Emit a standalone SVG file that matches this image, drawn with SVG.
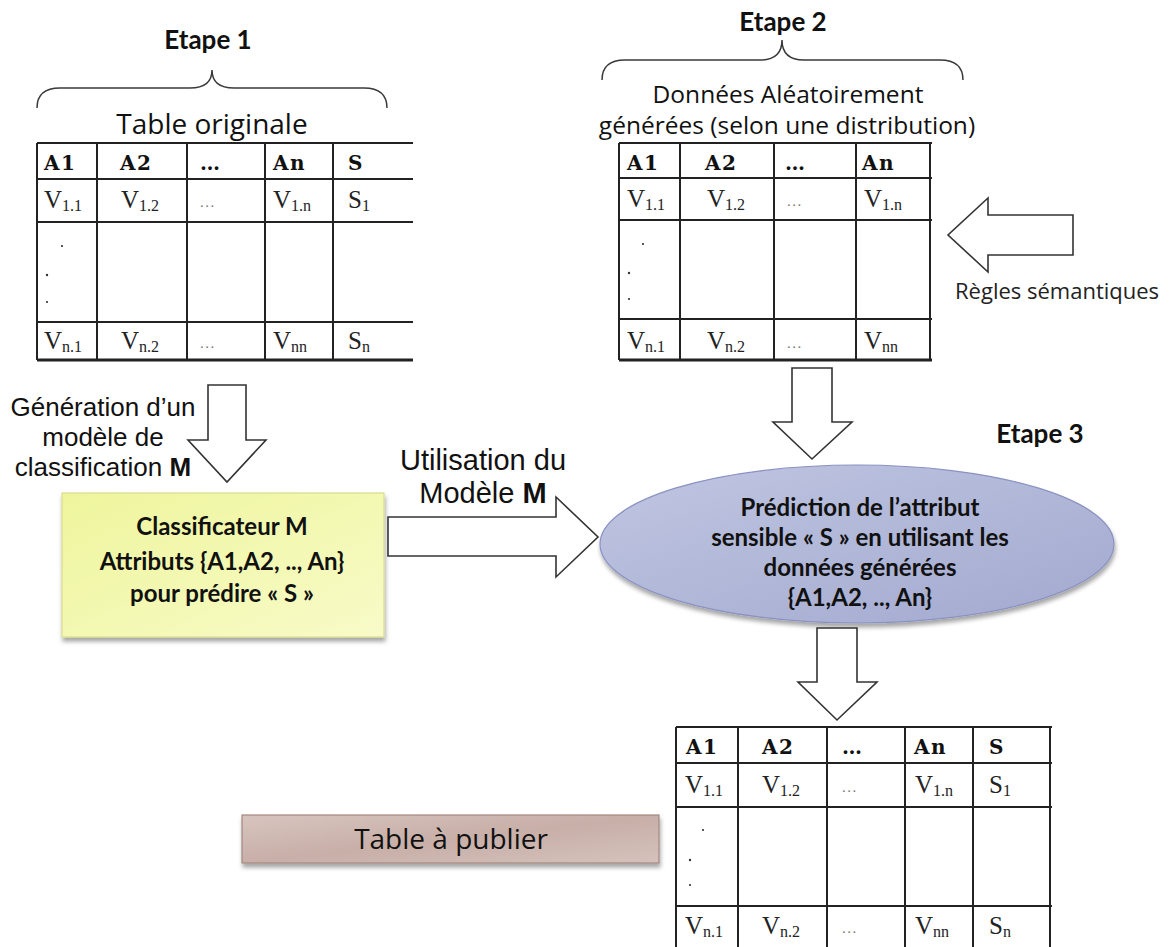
<svg xmlns="http://www.w3.org/2000/svg" width="1172" height="947" viewBox="0 0 1172 947">
  <style>
    .bg { fill: #ffffff; }
    .grid { stroke: #222; stroke-width: 2; fill: none; }
    .gridb { stroke: #222; stroke-width: 3.2; fill: none; }
    .hd { font-family: "DejaVu Serif", "Liberation Serif", serif; font-weight: bold; font-size: 20px; letter-spacing: 1.5px; fill: #111; }
    .cv { font-family: "Liberation Serif", serif; font-size: 25px; fill: #222; }
    .sub { font-size: 16px; }
    .ell { font-family: "Liberation Serif", serif; font-size: 15px; fill: #777; letter-spacing: 1.5px; }
    .dot { fill: #333; }
    .brace { stroke: #3a3a3a; stroke-width: 1.5; fill: none; }
    .step { font-family: "Lato", "Open Sans", sans-serif; font-weight: bold; font-size: 26px; fill: #111; text-anchor: middle; }
    .cap { font-family: "Open Sans", "Noto Sans", sans-serif; font-size: 24.5px; fill: #111; text-anchor: middle; }
    .cap-lg { font-size: 28px; }
    .lbl { font-family: "Liberation Sans", Arial, sans-serif; font-size: 26px; fill: #111; text-anchor: middle; }
    .lbl-lg { font-size: 29px; }
    .note { font-family: "Open Sans", "Noto Sans", sans-serif; font-size: 22px; fill: #222; }
    .box { font-family: "Lato", "Open Sans", sans-serif; font-weight: bold; font-size: 24px; fill: #111; text-anchor: middle; }
    .arrow { fill: #ffffff; stroke: #333; stroke-width: 1.6; stroke-linejoin: miter; }
  </style>
  <defs>
    <linearGradient id="yel" x1="0" y1="0" x2="1" y2="1">
      <stop offset="0" stop-color="#eef59c"/>
      <stop offset="1" stop-color="#f8fbc8"/>
    </linearGradient>
    <linearGradient id="blu" x1="0" y1="0" x2="1" y2="1">
      <stop offset="0" stop-color="#c0c6e1"/>
      <stop offset="1" stop-color="#a2a9cf"/>
    </linearGradient>
    <linearGradient id="ros" x1="0" y1="0" x2="1" y2="1">
      <stop offset="0" stop-color="#d8c4bf"/>
      <stop offset="0.5" stop-color="#c8afa8"/>
      <stop offset="1" stop-color="#d5c1bc"/>
    </linearGradient>
    <filter id="shadow" x="-10%" y="-10%" width="125%" height="135%">
      <feDropShadow dx="1" dy="4" stdDeviation="2" flood-color="#000" flood-opacity="0.35"/>
    </filter>
  </defs>

  <rect class="bg" x="0" y="0" width="1172" height="947"/>

  <!-- Step 1: original table -->
  <g id="step1">
    <path class="brace" d="M37,108 Q37,88 60,88 L190,88 Q212,88 212,70 Q212,88 234,88 L364,88 Q387,88 387,108"/>
    <text class="step" x="208" y="49">Etape 1</text>
    <text class="cap cap-lg" x="212" y="134">Table originale</text>
  </g>

  <g id="table-original" transform="translate(37,143)">
    <path class="grid" d="M0,0 H376 M0,36 H376 M0,79 H376 M0,179 H376 M0,0 V217 M60,0 V217 M150,0 V217 M228,0 V217 M296,0 V217"/>
    <path class="gridb" d="M0,217 H376"/>
    <text class="hd" x="7" y="27">A1</text>
    <text class="hd" x="83" y="27">A2</text>
    <text class="hd" x="163" y="27">…</text>
    <text class="hd" x="236" y="27">An</text>
    <text class="hd" x="311" y="27">S</text>
    <text class="cv" x="7" y="65">V<tspan class="sub" dy="3">1.1</tspan></text>
    <text class="cv" x="84" y="65">V<tspan class="sub" dy="3">1.2</tspan></text>
    <text class="ell" x="163" y="64">...</text>
    <text class="cv" x="236" y="65">V<tspan class="sub" dy="3">1.n</tspan></text>
    <text class="cv" x="311" y="65">S<tspan class="sub" dy="3">1</tspan></text>
    <circle class="dot" cx="25" cy="103" r="1.1"/>
    <circle class="dot" cx="10" cy="132" r="1.2"/>
    <circle class="dot" cx="10" cy="159" r="1.1"/>
    <text class="cv" x="7" y="206">V<tspan class="sub" dy="3">n.1</tspan></text>
    <text class="cv" x="84" y="206">V<tspan class="sub" dy="3">n.2</tspan></text>
    <text class="ell" x="163" y="205">...</text>
    <text class="cv" x="236" y="206">V<tspan class="sub" dy="3">nn</tspan></text>
    <text class="cv" x="311" y="206">S<tspan class="sub" dy="3">n</tspan></text>
  </g>

  <!-- Step 2: randomly generated data -->
  <g id="step2">
    <path class="brace" d="M602,80 Q602,60 625,60 L760,60 Q782,60 782,40 Q782,60 804,60 L940,60 Q963,60 963,80"/>
    <text class="step" x="783" y="31">Etape 2</text>
    <text class="cap" x="788" y="103">Données Aléatoirement</text>
    <text class="cap" x="787" y="134">générées (selon une distribution)</text>
  </g>

  <g id="table-generated" transform="translate(619,143)">
    <path class="grid" d="M0,0 H313 M0,35 H313 M0,77 H313 M0,176 H313 M0,0 V217 M61,0 V217 M155,0 V217 M237,0 V217 M311,0 V217"/>
    <path class="gridb" d="M0,217 H313"/>
    <text class="hd" x="8" y="27">A1</text>
    <text class="hd" x="86" y="27">A2</text>
    <text class="hd" x="166" y="27">…</text>
    <text class="hd" x="243" y="27">An</text>
    <text class="cv" x="8" y="64">V<tspan class="sub" dy="3">1.1</tspan></text>
    <text class="cv" x="88" y="64">V<tspan class="sub" dy="3">1.2</tspan></text>
    <text class="ell" x="168" y="63">...</text>
    <text class="cv" x="245" y="64">V<tspan class="sub" dy="3">1.n</tspan></text>
    <circle class="dot" cx="24" cy="101" r="1.1"/>
    <circle class="dot" cx="10" cy="130" r="1.2"/>
    <circle class="dot" cx="10" cy="156" r="1.1"/>
    <text class="cv" x="8" y="206">V<tspan class="sub" dy="3">n.1</tspan></text>
    <text class="cv" x="88" y="206">V<tspan class="sub" dy="3">n.2</tspan></text>
    <text class="ell" x="168" y="205">...</text>
    <text class="cv" x="245" y="206">V<tspan class="sub" dy="3">nn</tspan></text>
  </g>

  <g id="semantic-rules">
    <text class="note" x="955" y="299">Règles sémantiques</text>
  </g>

  <g id="labels">
    <text class="lbl" x="103" y="416">Génération d’un</text>
    <text class="lbl" x="103" y="446">modèle de</text>
    <text class="lbl" x="103" y="476">classification <tspan font-weight="bold">M</tspan></text>
    <text class="lbl lbl-lg" x="483" y="470">Utilisation du</text>
    <text class="lbl lbl-lg" x="483" y="503">Modèle <tspan font-weight="bold">M</tspan></text>
    <text class="step" x="1040" y="443">Etape 3</text>
  </g>

  <!-- Classifier -->
  <g id="classifier">
    <rect x="62" y="493" width="322" height="144" fill="url(#yel)" stroke="#d9dd8e" stroke-width="1.2" filter="url(#shadow)"/>
    <text class="box" x="222" y="535">Classificateur M</text>
    <text class="box" x="222" y="570">Attributs {A1,A2, .., An}</text>
    <text class="box" x="222" y="602">pour prédire « S »</text>
  </g>

  <!-- Prediction -->
  <g id="prediction">
    <ellipse cx="857" cy="544" rx="257" ry="79" fill="url(#blu)" stroke="#8a92c2" stroke-width="1.2" filter="url(#shadow)"/>
    <text class="box" x="860" y="516">Prédiction de l’attribut</text>
    <text class="box" x="860" y="546">sensible « S » en utilisant les</text>
    <text class="box" x="860" y="576">données générées</text>
    <text class="box" x="860" y="606">{A1,A2, .., An}</text>
  </g>

  <!-- Output table -->
  <g id="publish">
    <rect x="242" y="815" width="417" height="48" fill="url(#ros)" stroke="#a3877f" stroke-width="1.2" filter="url(#shadow)"/>
    <text class="cap cap-lg" x="451" y="849">Table à publier</text>
  </g>

  <g id="table-published" transform="translate(676,727)">
    <path class="grid" d="M0,0 H376 M0,36 H376 M0,80 H376 M0,179 H376 M0,0 V222 M62,0 V222 M151,0 V222 M229,0 V222 M297,0 V222 M374,0 V222"/>
    <text class="hd" x="10" y="27">A1</text>
    <text class="hd" x="86" y="27">A2</text>
    <text class="hd" x="166" y="27">…</text>
    <text class="hd" x="238" y="27">An</text>
    <text class="hd" x="313" y="27">S</text>
    <text class="cv" x="9" y="66">V<tspan class="sub" dy="3">1.1</tspan></text>
    <text class="cv" x="86" y="66">V<tspan class="sub" dy="3">1.2</tspan></text>
    <text class="ell" x="166" y="65">...</text>
    <text class="cv" x="239" y="66">V<tspan class="sub" dy="3">1.n</tspan></text>
    <text class="cv" x="313" y="66">S<tspan class="sub" dy="3">1</tspan></text>
    <circle class="dot" cx="27" cy="103" r="1.1"/>
    <circle class="dot" cx="14" cy="133" r="1.2"/>
    <circle class="dot" cx="14" cy="158" r="1.1"/>
    <text class="cv" x="9" y="207">V<tspan class="sub" dy="3">n.1</tspan></text>
    <text class="cv" x="86" y="207">V<tspan class="sub" dy="3">n.2</tspan></text>
    <text class="ell" x="166" y="206">...</text>
    <text class="cv" x="239" y="207">V<tspan class="sub" dy="3">nn</tspan></text>
    <text class="cv" x="313" y="207">S<tspan class="sub" dy="3">n</tspan></text>
  </g>

  <!-- Block arrows -->
  <g id="connectors">
    <path class="arrow" d="M208,385 H246 V440 H266 L227,482 L188,440 H208 Z"/>
    <path class="arrow" d="M388,517 H556 V497 L598,537 L556,577 V556 H388 Z"/>
    <path class="arrow" d="M792,368 H832 V422 H852 L812,459 L773,422 H792 Z"/>
    <path class="arrow" d="M1073,215 V255 H988 V272 L948,235 L988,198 V215 Z"/>
    <path class="arrow" d="M817,628 H857 V682 H877 L837,720 L798,682 H817 Z"/>
  </g>
</svg>
